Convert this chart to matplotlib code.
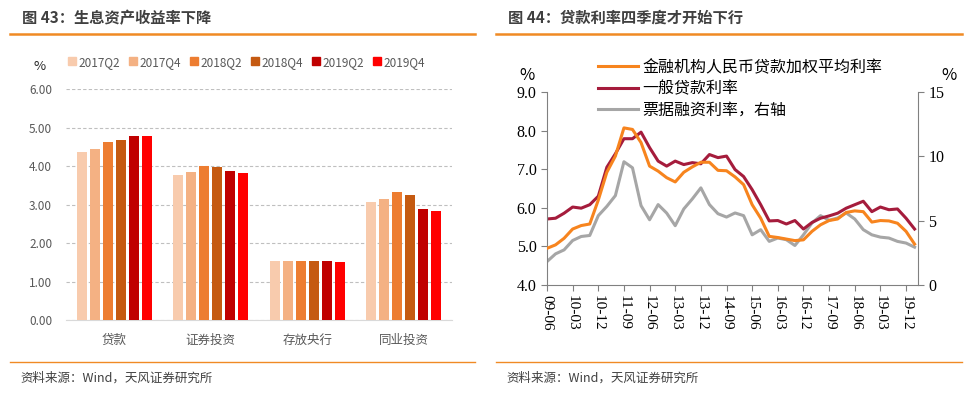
import matplotlib
matplotlib.use("Agg")
import matplotlib.pyplot as plt
from matplotlib.lines import Line2D
from matplotlib.patches import Patch

plt.rcParams['font.family'] = ['Noto Sans CJK SC', 'DejaVu Sans']

# 图43 数据
categorias = ["贷款", "证券投资", "存放央行", "同业投资"]
periodos = ["2017Q2", "2017Q4", "2018Q2", "2018Q4", "2019Q2", "2019Q4"]
rend_2017q2 = [4.37, 3.77, 1.53, 3.07]
rend_2017q4 = [4.45, 3.85, 1.53, 3.15]
rend_2018q2 = [4.62, 4.01, 1.54, 3.32]
rend_2018q4 = [4.67, 3.99, 1.54, 3.26]
rend_2019q2 = [4.79, 3.88, 1.53, 2.89]
rend_2019q4 = [4.78, 3.82, 1.52, 2.84]
cores_barras = ["#F8CBAD", "#F4B183", "#ED7D31", "#C55A11", "#C00000", "#FF0000"]

# 图44 数据 (季度, 09-06 到 20-03)
trimestres = ["09-06", "09-09", "09-12", "10-03", "10-06", "10-09", "10-12", "11-03",
              "11-06", "11-09", "11-12", "12-03", "12-06", "12-09", "12-12", "13-03",
              "13-06", "13-09", "13-12", "14-03", "14-06", "14-09", "14-12", "15-03",
              "15-06", "15-09", "15-12", "16-03", "16-06", "16-09", "16-12", "17-03",
              "17-06", "17-09", "17-12", "18-03", "18-06", "18-09", "18-12", "19-03",
              "19-06", "19-09", "19-12", "20-03"]
taxa_media = [4.95, 5.04, 5.21, 5.45, 5.54, 5.58, 6.20, 6.92, 7.34, 8.07, 8.03, 7.69,
              7.08, 6.95, 6.78, 6.67, 6.92, 7.06, 7.18, 7.18, 6.97, 6.96, 6.80, 6.60,
              6.08, 5.73, 5.26, 5.23, 5.19, 5.15, 5.17, 5.39, 5.56, 5.67, 5.71, 5.88,
              5.92, 5.90, 5.63, 5.67, 5.66, 5.60, 5.39, 5.06]
taxa_geral = [5.71, 5.73, 5.86, 6.02, 5.99, 6.08, 6.30, 7.05, 7.40, 7.79, 7.79, 7.96,
              7.56, 7.21, 7.08, 7.21, 7.12, 7.17, 7.14, 7.38, 7.30, 7.34, 6.99, 6.81,
              6.47, 6.08, 5.66, 5.67, 5.58, 5.67, 5.45, 5.62, 5.73, 5.79, 5.86, 5.99,
              6.08, 6.17, 5.90, 6.02, 5.95, 5.97, 5.73, 5.45]
taxa_titulos = [1.82, 2.42, 2.73, 3.46, 3.77, 3.85, 5.39, 6.11, 6.95, 9.58, 9.11, 6.17,
                5.07, 6.25, 5.59, 4.61, 5.91, 6.69, 7.55, 6.25, 5.54, 5.28, 5.60, 5.39,
                3.90, 4.30, 3.39, 3.65, 3.52, 3.07, 3.90, 4.82, 5.39, 5.03, 5.21, 5.60,
                5.13, 4.30, 3.90, 3.72, 3.65, 3.39, 3.26, 2.94]

fig = plt.figure(figsize=(9.8, 3.94), dpi=100)
W, H = 980.0, 394.0

def fx(px):
    return px / W

def fy(py):
    return 1 - py / H

cinza_titulo = "#404040"

# cabeçalhos e rodapés
for x0, x1, titulo in [(10, 475, "图 43：生息资产收益率下降"),
                       (496, 962, "图 44：贷款利率四季度才开始下行")]:
    fig.text(fx(x0 + 12), fy(18), titulo, fontsize=11, fontweight="bold",
             color=cinza_titulo, va="center")
    fig.add_artist(Line2D([fx(x0), fx(x1)], [fy(34), fy(34)], color="#F08A24", lw=1.8))
    fig.add_artist(Line2D([fx(x0), fx(x1)], [fy(362), fy(362)], color="#F08A24", lw=1.0))
    fig.text(fx(x0 + 10), fy(378), "资料来源：Wind，天风证券研究所", fontsize=9,
             color=cinza_titulo, va="center")

# ---- 图43 ----
ax1 = fig.add_axes([fx(66), fy(320), fx(386), 230.7 / H])
series = [rend_2017q2, rend_2017q4, rend_2018q2, rend_2018q4, rend_2019q2, rend_2019q4]
passo = 0.134
largura = 0.104
for k, valores in enumerate(series):
    pos = [i + (k - 2.5) * passo for i in range(len(categorias))]
    ax1.bar(pos, valores, width=largura, color=cores_barras[k], zorder=3)
ax1.set_xlim(-0.5, 3.5)
ax1.set_ylim(0, 6)
ax1.set_yticks([0, 1, 2, 3, 4, 5, 6])
ax1.set_yticklabels(["%.2f" % v for v in [0, 1, 2, 3, 4, 5, 6]])
ax1.set_xticks(range(len(categorias)))
ax1.set_xticklabels(categorias)
ax1.yaxis.grid(True, color="#BFBFBF", linestyle=(0, (3, 2)), lw=0.8, zorder=0)
for s in ["top", "right", "left"]:
    ax1.spines[s].set_visible(False)
ax1.spines["bottom"].set_color("#D9D9D9")
ax1.tick_params(axis="both", length=0, labelsize=8.5, labelcolor="#595959")
ax1.tick_params(axis="y", pad=10)
ax1.tick_params(axis="x", pad=10, labelsize=9)
fig.text(fx(40), fy(66), "%", fontsize=9.5, color="#262626", va="center", ha="center")
alcas = [Patch(color=c) for c in cores_barras]
ax1.legend(alcas, periodos, ncol=6, frameon=False, fontsize=8.5,
           loc="center", bbox_to_anchor=(0.468, 1.118), handlelength=0.65,
           handleheight=0.65, handletextpad=0.25, columnspacing=0.75,
           labelcolor="#595959")

# ---- 图44 ----
ax2 = fig.add_axes([fx(547), fy(285), fx(371), 193 / H])
xs = list(range(len(trimestres)))
l1, = ax2.plot(xs, taxa_media, color="#F7841E", lw=2.2, zorder=3)
l2, = ax2.plot(xs, taxa_geral, color="#A51C3C", lw=2.2, zorder=2)
ax2.set_ylim(4, 9)
ax2.set_xlim(0, 43.4)
ax3 = ax2.twinx()
l3, = ax3.plot(xs, taxa_titulos, color="#A6A6A6", lw=2.2, zorder=1)
ax3.set_ylim(0, 15)
ax3.set_yticks([0, 5, 10, 15])
ax2.set_zorder(ax3.get_zorder() + 1)
ax2.patch.set_visible(False)

fonte_serif = "Liberation Serif"
ax2.set_yticks([4, 5, 6, 7, 8, 9])
ax2.set_yticklabels(["%.1f" % v for v in [4, 5, 6, 7, 8, 9]], family=fonte_serif)
ax2.set_xticks(xs[::3])
ax2.set_xticklabels(trimestres[::3], rotation=270, family=fonte_serif)
ax3.set_yticklabels(["0", "5", "10", "15"], family=fonte_serif)
for a in (ax2, ax3):
    a.spines["top"].set_visible(False)
    for s in ["left", "right", "bottom"]:
        a.spines[s].set_color("#808080")
ax2.spines["right"].set_visible(False)
ax3.spines["left"].set_visible(False)
ax3.spines["bottom"].set_visible(False)
ax2.tick_params(axis="both", color="#808080", length=4, labelsize=11.5, labelcolor="#000000")
ax2.tick_params(axis="x", pad=3, labelsize=11)
ax3.tick_params(axis="y", color="#808080", length=4, labelsize=11.5, labelcolor="#000000")
fig.text(fx(527), fy(75), "%", fontsize=12, va="center", ha="center")
fig.text(fx(949), fy(75), "%", fontsize=12, va="center", ha="center")
ax2.legend([l1, l2, l3], ["金融机构人民币贷款加权平均利率", "一般贷款利率", "票据融资利率，右轴"],
           frameon=False, fontsize=11.5, loc="upper left",
           bbox_to_anchor=(0.12, 1.205), handlelength=2.5, handletextpad=0.3,
           labelspacing=0.28, borderaxespad=0)

fig.savefig("out.png", dpi=100)
